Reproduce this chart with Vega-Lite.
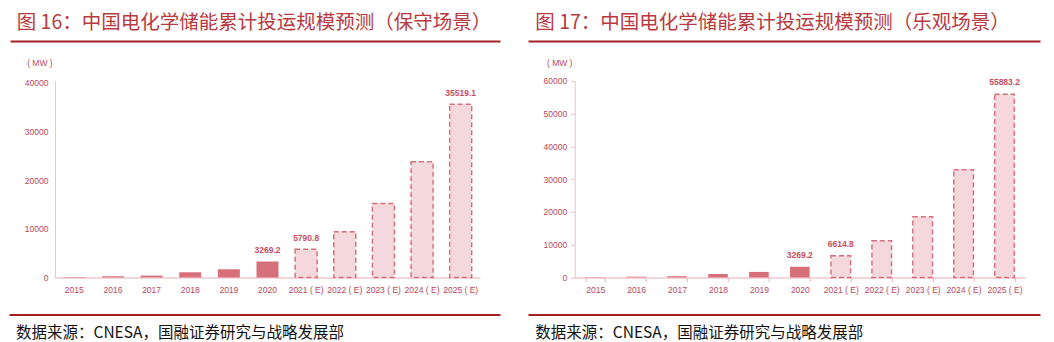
{
  "$schema": "https://vega.github.io/schema/vega-lite/v6.json",
  "background": "white",
  "padding": {"left": 16, "top": 12, "right": 0, "bottom": 4},
  "autosize": {"type": "pad"},
  "config": {"view": {"stroke": null}, "font": "Liberation Sans"},
  "datasets": {
    "conservative": [
      {"year": "2015", "value": 105.5, "kind": "实际"},
      {"year": "2016", "value": 243.0, "kind": "实际"},
      {"year": "2017", "value": 389.8, "kind": "实际"},
      {"year": "2018", "value": 1072.7, "kind": "实际"},
      {"year": "2019", "value": 1709.6, "kind": "实际"},
      {"year": "2020", "value": 3269.2, "kind": "实际"},
      {"year": "2021 ( E)", "value": 5790.8, "kind": "预测"},
      {"year": "2022 ( E)", "value": 9400, "kind": "预测"},
      {"year": "2023 ( E)", "value": 15200, "kind": "预测"},
      {"year": "2024 ( E)", "value": 23750, "kind": "预测"},
      {"year": "2025 ( E)", "value": 35519.1, "kind": "预测"}
    ],
    "optimistic": [
      {"year": "2015", "value": 105.5, "kind": "实际"},
      {"year": "2016", "value": 243.0, "kind": "实际"},
      {"year": "2017", "value": 389.8, "kind": "实际"},
      {"year": "2018", "value": 1072.7, "kind": "实际"},
      {"year": "2019", "value": 1709.6, "kind": "实际"},
      {"year": "2020", "value": 3269.2, "kind": "实际"},
      {"year": "2021 ( E)", "value": 6614.8, "kind": "预测"},
      {"year": "2022 ( E)", "value": 11195, "kind": "预测"},
      {"year": "2023 ( E)", "value": 18515, "kind": "预测"},
      {"year": "2024 ( E)", "value": 32850, "kind": "预测"},
      {"year": "2025 ( E)", "value": 55883.2, "kind": "预测"}
    ]
  },
  "columns": 2,
  "bounds": "flush",
  "spacing": {"row": 36.8, "column": 94.7},
  "concat": [
    {
      "width": 425, "height": 2.2,
      "data": {"values": [{}]},
      "mark": {"type": "point", "opacity": 0},
      "encoding": {"x": {"datum": 0.5, "type": "quantitative", "scale": {"domain": [0, 1], "range": [-45, 445]},
        "axis": {"orient": "top", "domainColor": "#a3202a", "domainWidth": 2, "ticks": false, "labels": false, "grid": false, "title": null}}},
      "title": {"text": "图 16：中国电化学储能累计投运规模预测（保守场景）", "anchor": "start", "frame": "group", "dx": -38.3, "offset": -9, "baseline": "alphabetic", "font": "Noto Sans CJK SC", "fontSize": 19.5, "fontWeight": "normal", "color": "#b83a40"}
    },
    {
      "width": 450.3, "height": 2.2,
      "data": {"values": [{}]},
      "mark": {"type": "point", "opacity": 0},
      "encoding": {"x": {"datum": 0.5, "type": "quantitative", "scale": {"domain": [0, 1], "range": [-46.7, 465.3]},
        "axis": {"orient": "top", "domainColor": "#a3202a", "domainWidth": 2, "ticks": false, "labels": false, "grid": false, "title": null}}},
      "title": {"text": "图 17：中国电化学储能累计投运规模预测（乐观场景）", "anchor": "start", "frame": "group", "dx": -39.4, "offset": -9, "baseline": "alphabetic", "font": "Noto Sans CJK SC", "fontSize": 19.5, "fontWeight": "normal", "color": "#b83a40"}
    },
    {
      "width": 425, "height": 196.7,
      "data": {"name": "conservative"},
      "encoding": {
        "x": {"field": "year", "type": "nominal", "sort": null,
          "scale": {"domain": ["2015", "2016", "2017", "2018", "2019", "2020", "2021 ( E)", "2022 ( E)", "2023 ( E)", "2024 ( E)", "2025 ( E)"], "paddingInner": 0.43, "paddingOuter": 0.215},
          "axis": {"title": null, "labelAngle": 0, "domainColor": "#e6b0b6", "ticks": false, "labelPadding": 8, "labelColor": "#b8475a", "labelFont": "Liberation Sans", "labelFontSize": 8.5}},
        "y": {"field": "value", "type": "quantitative",
          "scale": {"domain": [0, 40349], "nice": false},
          "axis": {"title": "( MW )", "titleAngle": 0, "titleX": -15.6, "titleY": -18, "titleAlign": "center", "titleBaseline": "middle", "titleFont": "Liberation Sans", "titleFontSize": 8.5, "titleFontWeight": "normal", "titleColor": "#b8475a",
            "values": [0, 10000, 20000, 30000, 40000], "format": "d", "domainColor": "#ecc3c8", "ticks": false, "grid": false, "labelPadding": 7, "labelColor": "#b8475a", "labelFont": "Liberation Sans", "labelFontSize": 8.5}}
      },
      "layer": [
        {"transform": [{"filter": "datum.kind === '实际'"}], "mark": {"type": "bar", "color": "#d8707c"}},
        {"transform": [{"filter": "datum.kind === '预测'"}], "mark": {"type": "bar", "fill": "#f5d8db", "stroke": "#d8707c", "strokeWidth": 1.5, "strokeDash": [5, 3]}},
        {"transform": [{"filter": {"field": "year", "oneOf": ["2020", "2021 ( E)", "2025 ( E)"]}}],
          "mark": {"type": "text", "baseline": "middle", "dy": -11.5, "font": "Liberation Sans", "fontSize": 8.5, "fontWeight": "bold", "color": "#c8505c"},
          "encoding": {"text": {"field": "value", "type": "quantitative", "format": ".1f"}}}
      ]
    },
    {
      "width": 450.3, "height": 196.7,
      "data": {"name": "optimistic"},
      "encoding": {
        "x": {"field": "year", "type": "nominal", "sort": null,
          "scale": {"domain": ["2015", "2016", "2017", "2018", "2019", "2020", "2021 ( E)", "2022 ( E)", "2023 ( E)", "2024 ( E)", "2025 ( E)"], "paddingInner": 0.52, "paddingOuter": 0.26},
          "axis": {"title": null, "labelAngle": 0, "domainColor": "#e6b0b6", "ticks": true, "tickBand": "extent", "tickColor": "#e6b0b6", "tickSize": 4, "labelPadding": 4, "labelColor": "#b8475a", "labelFont": "Liberation Sans", "labelFontSize": 8.5}},
        "y": {"field": "value", "type": "quantitative",
          "scale": {"domain": [0, 60000], "nice": false},
          "axis": {"title": "( MW )", "titleAngle": 0, "titleX": -15.5, "titleY": -18.3, "titleAlign": "center", "titleBaseline": "middle", "titleFont": "Liberation Sans", "titleFontSize": 8.5, "titleFontWeight": "normal", "titleColor": "#b8475a",
            "values": [0, 10000, 20000, 30000, 40000, 50000, 60000], "format": "d", "domainColor": "#ecc3c8", "ticks": true, "tickColor": "#ecc3c8", "tickSize": 4, "grid": false, "labelPadding": 4, "labelColor": "#b8475a", "labelFont": "Liberation Sans", "labelFontSize": 8.5}}
      },
      "layer": [
        {"transform": [{"filter": "datum.kind === '实际'"}], "mark": {"type": "bar", "color": "#d8707c"}},
        {"transform": [{"filter": "datum.kind === '预测'"}], "mark": {"type": "bar", "fill": "#f5d8db", "stroke": "#d8707c", "strokeWidth": 1.5, "strokeDash": [5, 3]}},
        {"transform": [{"filter": {"field": "year", "oneOf": ["2020", "2021 ( E)", "2025 ( E)"]}}],
          "mark": {"type": "text", "baseline": "middle", "dy": -12, "font": "Liberation Sans", "fontSize": 8.5, "fontWeight": "bold", "color": "#c8505c"},
          "encoding": {"text": {"field": "value", "type": "quantitative", "format": ".1f"}}}
      ]
    },
    {
      "width": 425, "height": 1,
      "data": {"values": [{}]},
      "mark": {"type": "point", "opacity": 0},
      "encoding": {"x": {"datum": 0.5, "type": "quantitative", "scale": {"domain": [0, 1], "range": [-46, 445]},
        "axis": {"orient": "top", "domainColor": "#a3202a", "domainWidth": 2, "ticks": false, "labels": false, "grid": false, "title": null}}},
      "title": {"text": "数据来源：CNESA，国融证券研究与战略发展部", "orient": "bottom", "anchor": "start", "frame": "group", "dx": -39, "offset": 8, "baseline": "top", "font": "Noto Sans CJK SC", "fontSize": 15.5, "fontWeight": "normal", "color": "#111111"}
    },
    {
      "width": 450.3, "height": 1,
      "data": {"values": [{}]},
      "mark": {"type": "point", "opacity": 0},
      "encoding": {"x": {"datum": 0.5, "type": "quantitative", "scale": {"domain": [0, 1], "range": [-46.7, 465.3]},
        "axis": {"orient": "top", "domainColor": "#a3202a", "domainWidth": 2, "ticks": false, "labels": false, "grid": false, "title": null}}},
      "title": {"text": "数据来源：CNESA，国融证券研究与战略发展部", "orient": "bottom", "anchor": "start", "frame": "group", "dx": -39.4, "offset": 8, "baseline": "top", "font": "Noto Sans CJK SC", "fontSize": 15.5, "fontWeight": "normal", "color": "#111111"}
    }
  ]
}
